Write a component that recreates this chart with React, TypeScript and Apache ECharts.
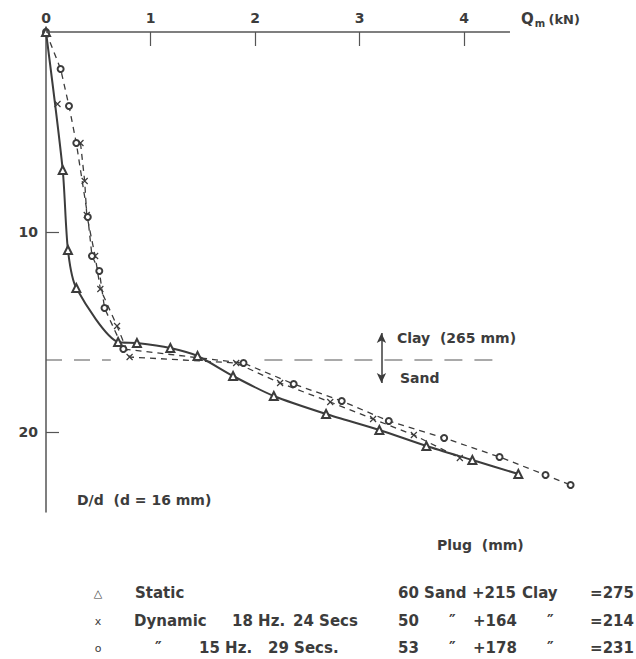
import React, { useEffect, useRef } from "react";
import * as echarts from "echarts";

// Static test (triangles): [Qm (kN), D/d]
const staticData: [number, number][] = [
  [0, 0], [0.16, 6.9], [0.21, 10.9], [0.29, 12.8], [0.69, 15.5], [0.87, 15.55],
  [1.19, 15.8], [1.45, 16.2], [1.79, 17.2], [2.18, 18.2], [2.68, 19.1],
  [3.19, 19.9], [3.64, 20.7], [4.08, 21.4], [4.52, 22.1],
];
// Dynamic 18 Hz, 24 s (crosses); "-" = break in the dashed line
const dyn18Data: any[] = [
  [0.11, 3.6], "-", [0.33, 5.55], [0.37, 7.45], [0.39, 9.15], [0.47, 11.2],
  [0.52, 12.85], [0.68, 14.7], [0.8, 16.25], [1.82, 16.55], [2.24, 17.55],
  [2.72, 18.5], [3.13, 19.35], [3.52, 20.15], [3.96, 21.3],
];
// Dynamic 15 Hz, 29 s (circles)
const dyn15Data: [number, number][] = [
  [0, 0], [0.14, 1.85], [0.22, 3.7], [0.29, 5.55], [0.4, 9.25], [0.44, 11.2],
  [0.51, 11.95], [0.56, 13.8], [0.74, 15.85], [1.89, 16.55], [2.37, 17.6],
  [2.83, 18.45], [3.28, 19.45], [3.81, 20.3], [4.34, 21.25], [4.78, 22.15],
  [5.02, 22.65],
];
// Clay / sand interface (265 mm / 16 mm)
const interfaceDepth = 16.4;
const interfaceLeft: [number, number][] = [[0, interfaceDepth], [0.62, interfaceDepth]];
const interfaceRight: [number, number][] = [[2.09, interfaceDepth], [4.3, interfaceDepth]];
const arrowX = 3.21;
const arrowUp = 15.05;
const arrowDown = 17.55;
const qAxisEnd = 4.44;

const xTicks = [0, 1, 2, 3, 4];
const yTicks = [10, 20];

const legendRows = [
  { mark: "△", parts: [["Static", 135]], right: [["60 Sand", 398], ["+215", 472], ["Clay", 522]], total: "=275" },
  { mark: "x", parts: [["Dynamic", 134], ["18 Hz.", 232], ["24 Secs", 293]], right: [["50", 398], ["″", 449], ["+164", 473], ["″", 547]], total: "=214" },
  { mark: "o", parts: [["″", 155], ["15 Hz.", 199], ["29 Secs.", 268]], right: [["53", 398], ["″", 449], ["+178", 473], ["″", 547]], total: "=231" },
];
const legendY = [593, 621, 648];

const INK = "#3c3c3c";
const FONT = "DejaVu Sans";
const PX_PER_KN = 104.5;
const X_MAX = 5.2;

export default function App() {
  const ref = useRef<HTMLDivElement>(null);
  useEffect(() => {
    if (!ref.current) return;
    const chart = echarts.init(ref.current, null, { renderer: "svg" });

    const txt = (text: string, x: number, y: number, size = 14, align = "left", weight = "bold") => ({
      type: "text",
      x,
      y,
      silent: true,
      style: {
        text,
        fill: INK,
        font: `${weight} ${size}px "${FONT}"`,
        align,
        verticalAlign: "middle",
      },
    });

    const graphics: any[] = [];
    legendRows.forEach((row, i) => {
      const y = legendY[i];
      graphics.push(txt(row.mark, 98, y, 11, "center", "normal"));
      row.parts.forEach(([t, x]) => graphics.push(txt(t as string, x as number, y, 15)));
      row.right.forEach(([t, x]) => graphics.push(txt(t as string, x as number, y, 15)));
      graphics.push(txt(row.total, 634, y, 15, "right"));
    });
    graphics.push(txt("Clay  (265 mm)", 397, 338, 14));
    graphics.push(txt("Sand", 400, 378, 14));
    graphics.push(txt("D/d  (d = 16 mm)", 77, 500, 14));
    graphics.push(txt("Plug  (mm)", 437, 545, 14));
    graphics.push({
      type: "text",
      x: 521,
      y: 19,
      silent: true,
      style: {
        text: "{q|Q}{m|m} {u|(kN)}",
        fill: INK,
        verticalAlign: "middle",
        rich: {
          q: { font: `bold 15px "${FONT}"`, fill: INK },
          m: { font: `bold 10px "${FONT}"`, fill: INK, padding: [8, 0, 0, 1] },
          u: { font: `bold 13px "${FONT}"`, fill: INK },
        },
      },
    });

    const lineBase = { type: "line", clip: false, animation: false };

    chart.setOption({
      animation: false,
      backgroundColor: "#ffffff",
      grid: { left: 46, top: 32, width: X_MAX * PX_PER_KN, height: 480, containLabel: false },
      xAxis: {
        type: "value",
        position: "top",
        min: 0,
        max: X_MAX,
        interval: 1,
        axisLine: { show: false },
        axisTick: { show: true, inside: true, length: 14, customValues: [1, 2, 3, 4], lineStyle: { color: "#555", width: 1.2 } },
        axisLabel: { customValues: xTicks, color: INK, fontFamily: FONT, fontSize: 14, fontWeight: "bold", margin: 7 },
        splitLine: { show: false },
      },
      yAxis: {
        type: "value",
        inverse: true,
        min: 0,
        max: 24,
        interval: 10,
        axisLine: { show: true, onZero: false, lineStyle: { color: "#555", width: 1.5 } },
        axisTick: { show: true, inside: true, length: 13, customValues: yTicks, lineStyle: { color: "#555", width: 1.2 } },
        axisLabel: { customValues: yTicks, color: INK, fontFamily: FONT, fontSize: 14, fontWeight: "bold", margin: 8 },
        splitLine: { show: false },
      },
      series: [
        {
          ...lineBase,
          name: "Clay/Sand interface",
          data: interfaceLeft,
          symbol: "none",
          lineStyle: { color: "#555", width: 1.2, type: [16, 12] },
          z: 1,
          markLine: {
            silent: true,
            animation: false,
            symbol: ["none", "none"],
            label: { show: false },
            lineStyle: { color: "#555", width: 1.5, type: "solid" },
            data: [[{ coord: [0, 0] }, { coord: [qAxisEnd, 0] }]],
          },
        },
        {
          ...lineBase,
          name: "Clay/Sand interface R",
          data: interfaceRight,
          symbol: "none",
          lineStyle: { color: "#555", width: 1.2, type: [18, 12] },
          z: 1,
          markLine: {
            silent: true,
            animation: false,
            symbol: ["none", "arrow"],
            symbolSize: [7, 10],
            label: { show: false },
            lineStyle: { color: INK, width: 1.5, type: "solid" },
            data: [
              [{ coord: [arrowX, interfaceDepth] }, { coord: [arrowX, arrowUp] }],
              [{ coord: [arrowX, interfaceDepth] }, { coord: [arrowX, arrowDown] }],
            ],
          },
        },
        {
          ...lineBase,
          name: "Static",
          data: staticData,
          smooth: 0.25,
          symbol: "emptyTriangle",
          symbolSize: 8,
          showAllSymbol: true,
          lineStyle: { color: INK, width: 2 },
          itemStyle: { color: INK, borderWidth: 1 },
          z: 3,
        },
        {
          ...lineBase,
          name: "Dynamic 18 Hz. 24 Secs",
          data: dyn18Data,
          connectNulls: false,
          symbol: "path://M0,0L10,10M10,0L0,10",
          symbolSize: 6,
          showAllSymbol: true,
          lineStyle: { color: INK, width: 1.3, type: [6, 5] },
          itemStyle: { color: "none", borderColor: INK, borderWidth: 1.2 },
          z: 2,
        },
        {
          ...lineBase,
          name: "Dynamic 15 Hz. 29 Secs",
          data: dyn15Data,
          symbol: "emptyCircle",
          symbolSize: 6,
          showAllSymbol: true,
          lineStyle: { color: INK, width: 1.3, type: [6, 5] },
          itemStyle: { color: INK, borderWidth: 1 },
          z: 2,
        },
      ],
      graphic: graphics,
    });
    return () => chart.dispose();
  }, []);
  return <div ref={ref} style={{ position: "fixed", left: 0, top: 0, width: 636, height: 659 }} />;
}
